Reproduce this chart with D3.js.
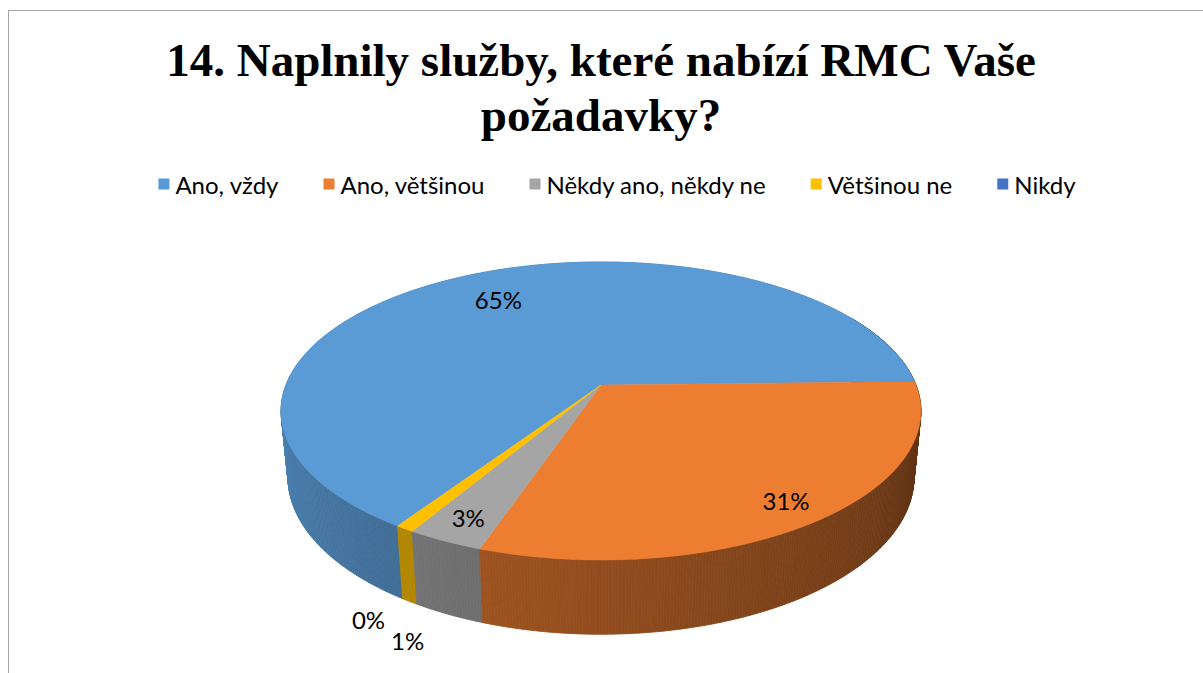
<!DOCTYPE html>
<html lang="cs">
<head>
<meta charset="utf-8">
<script src="https://d3js.org/d3.v7.min.js"></script>
<style>
  body { margin: 0; background: #fff; }
  svg { display: block; }
  .lbl { font-family: Lato, "Open Sans", sans-serif; font-size: 24px; fill: #000; }
</style>
</head>
<body>
<svg id="chart"></svg>
<script>
// data
const categories = ["Ano, vždy", "Ano, většinou", "Někdy ano, někdy ne", "Většinou ne", "Nikdy"];
const values = [65.3, 30.6, 3.3, 0.8, 0];
const colors = ["#5b9bd5", "#ed7d31", "#a5a5a5", "#ffc000", "#4472c4"];
const titleLines = ["14. Naplnily služby, které nabízí RMC Vaše", "požadavky?"];

const width = 1203, height = 673;

// 3d pie settings
const cx = 601, cy = 385;
const R = 315;          // radius in pie plane
const depth = 75;       // thickness
const tilt = 27.3 * Math.PI / 180;
const camDist = 1604;
const firstAngle = 213.5; // degrees, clockwise from 12 o'clock

const svg = d3.select("#chart").attr("width", width).attr("height", height);

// chart border (only top / left visible)
svg.append("rect")
  .attr("x", 8.5).attr("y", 10.5)
  .attr("width", 1300).attr("height", 800)
  .attr("fill", "none").attr("stroke", "#a6a6a6").attr("stroke-width", 1);

// title
svg.append("g").selectAll("text")
  .data(titleLines)
  .join("text")
  .attr("x", 601)
  .attr("y", (d, i) => 76 + i * 55)
  .attr("text-anchor", "middle")
  .style("font-family", "'Liberation Serif', 'Times New Roman', serif")
  .style("font-weight", "bold")
  .style("font-size", "47px")
  .text(d => d);

// projection of a point on the pie (angle a clockwise from top, radius r, height w)
function proj(a, r, w) {
  const u = r * Math.sin(a);
  const v = -r * Math.cos(a);
  const Y = v * Math.sin(tilt) - w * Math.cos(tilt);
  const Z = v * Math.cos(tilt) + w * Math.sin(tilt);
  const sc = camDist / (camDist - Z);
  return [cx + u * sc, cy + Y * sc, Z];
}

const pie = d3.pie().sort(null).value(d => d)
  .startAngle(firstAngle * Math.PI / 180)
  .endAngle((firstAngle + 360) * Math.PI / 180);
const arcs = pie(values);

const line = d3.line();
const step = Math.PI / 360;

function shade(a) {
  let deg = (a * 180 / Math.PI) % 360;
  if (deg < 0) deg += 360;
  if (deg < 60) deg += 360;
  const f = 0.39 + (deg - 100) * 0.00277;
  return Math.max(0.36, Math.min(0.88, f));
}

// side quads
const quads = [];
arcs.forEach((d, i) => {
  if (d.endAngle - d.startAngle <= 0) return;
  const n = Math.max(1, Math.ceil((d.endAngle - d.startAngle) / step));
  for (let k = 0; k < n; k++) {
    const a0 = d.startAngle + (d.endAngle - d.startAngle) * k / n;
    const a1 = d.startAngle + (d.endAngle - d.startAngle) * (k + 1) / n;
    const p0 = proj(a0, R, 0), p1 = proj(a1, R, 0);
    const p2 = proj(a1, R, -depth), p3 = proj(a0, R, -depth);
    const am = (a0 + a1) / 2;
    const c = d3.rgb(colors[i]);
    const f = shade(am);
    quads.push({
      pts: [p0, p1, p2, p3].map(p => [p[0], p[1]]),
      z: proj(am, R, -depth / 2)[2],
      fill: d3.rgb(c.r * f, c.g * f, c.b * f).toString()
    });
  }
});
quads.sort((a, b) => a.z - b.z);

svg.append("g").selectAll("path")
  .data(quads)
  .join("path")
  .attr("d", q => line(q.pts) + "Z")
  .attr("fill", q => q.fill)
  .attr("stroke", q => q.fill)
  .attr("stroke-width", 0.8);

// top faces
svg.append("g").selectAll("path")
  .data(arcs.filter(d => d.endAngle > d.startAngle))
  .join("path")
  .attr("d", d => {
    const pts = [[cx, cy]];
    const n = Math.max(1, Math.ceil((d.endAngle - d.startAngle) / step));
    for (let k = 0; k <= n; k++) {
      const a = d.startAngle + (d.endAngle - d.startAngle) * k / n;
      const p = proj(a, R, 0);
      pts.push([p[0], p[1]]);
    }
    return line(pts) + "Z";
  })
  .attr("fill", d => colors[d.index])
  .attr("stroke", d => colors[d.index])
  .attr("stroke-width", 0.5);

// data labels
const outsideNudge = [[0, 0], [0, 0], [0, 0], [-2, 39], [-34, 21]];
svg.append("g").selectAll("text")
  .data(arcs)
  .join("text")
  .attr("class", "lbl")
  .attr("text-anchor", "middle")
  .attr("dominant-baseline", "central")
  .each(function(d) {
    const mid = (d.startAngle + d.endAngle) / 2;
    let p;
    if (d.value >= 2) {
      p = proj(mid, R * (d.value > 50 ? 0.75 : 0.87), 0);
    } else {
      p = proj(mid, R, -depth);
      p = [p[0] + outsideNudge[d.index][0], p[1] + outsideNudge[d.index][1]];
    }
    d3.select(this).attr("x", p[0]).attr("y", p[1]);
  })
  .text(d => Math.round(d.value) + "%");

// legend
const legend = svg.append("g");
const items = legend.selectAll("g")
  .data(categories)
  .join("g");
items.append("rect")
  .attr("width", 11).attr("height", 11)
  .attr("y", -5.5)
  .attr("fill", (d, i) => colors[i]);
items.append("text")
  .attr("class", "lbl")
  .attr("x", 17)
  .attr("dominant-baseline", "central")
  .text(d => d);
const gap = 45;
let xpos = 0;
items.each(function() {
  const w = d3.select(this).select("text").node().getComputedTextLength();
  d3.select(this).attr("transform", `translate(${xpos},0)`);
  xpos += 17 + w + gap;
});
const legendW = xpos - gap;
legend.attr("transform", `translate(${617 - legendW / 2},184)`);
</script>
</body>
</html>
